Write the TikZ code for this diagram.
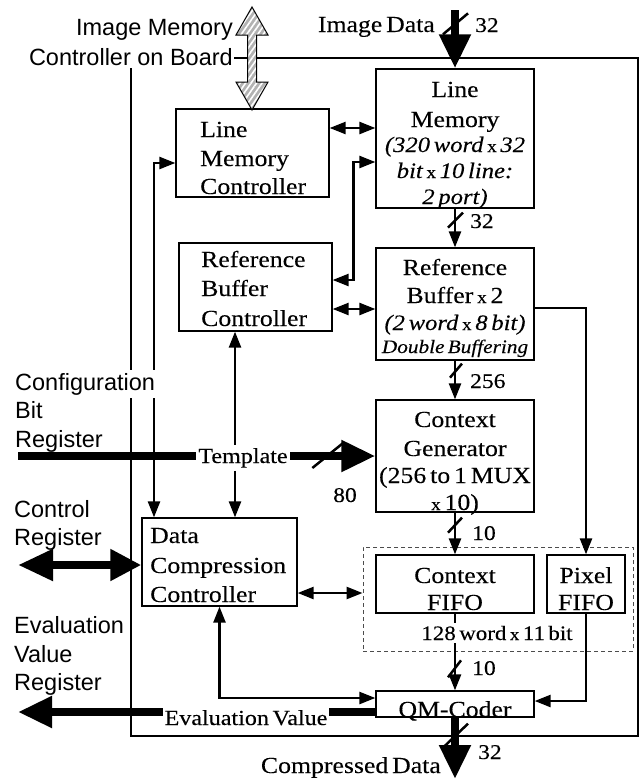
\documentclass[tikz,border=0pt]{standalone}
\usepackage{fontspec}
\setmainfont{Liberation Serif}[FakeStretch=1.12,WordSpace=0.6,FakeBold=0.2]
\newfontfamily\sanf{Liberation Sans}
\usetikzlibrary{arrows.meta,calc,patterns.meta}
\newcommand\mulx{{\fontsize{17}{17}\selectfont\upshape x}}
\tikzset{
  >={Triangle[length=16pt,width=12pt]},
  box/.style={draw, line width=1.3pt, inner sep=0pt},
  con/.style={line width=2.5pt},
  fat/.style={line width=8pt, arrows={-Triangle[length=34pt,width=30pt]}},
  fatboth/.style={line width=8pt, arrows={Triangle[length=35pt,width=30pt]-Triangle[length=31pt,width=30pt]}},
  slash/.style={line width=2.5pt},
  lab/.style={inner sep=0pt, anchor=base, font=\fontsize{23}{28}\selectfont},
  labl/.style={lab, anchor=base west},
  labr/.style={lab, anchor=base east},
  labi/.style={lab, font=\fontsize{22}{26}\selectfont\itshape},
  labs/.style={lab, font=\fontsize{19}{22}\selectfont\itshape},
  midlab/.style={lab, font=\fontsize{21.5}{26}\selectfont, fill=white, inner xsep=2pt, inner ysep=3pt},
  num/.style={inner sep=0pt, anchor=base west, font=\fontsize{21}{24}\selectfont},
  sansl/.style={inner sep=0pt, anchor=base west, font=\sanf\fontsize{23.5}{28}\selectfont},
  sansr/.style={sansl, anchor=base east},
}
\begin{document}
\begin{tikzpicture}[x=1pt,y=-1pt]
\useasboundingbox (0,0) rectangle (644,779);
% frames
\node[box, minimum width=507pt, minimum height=678pt] (outer) at (384.5,397) {};
\node[draw, dashed, dash pattern=on 4pt off 3pt, line width=0.9pt, gray!60!black, inner sep=0pt, minimum width=270pt, minimum height=104pt] (fifo) at (498,599) {};
% boxes
\node[box, minimum width=153pt, minimum height=88pt] (lmc) at (252.5,153) {};
\node[box, minimum width=153pt, minimum height=88pt] (rbc) at (255.5,287) {};
\node[box, minimum width=155pt, minimum height=88pt] (dcc) at (219.5,562) {};
\node[box, minimum width=158pt, minimum height=139pt] (lm) at (455,138.5) {};
\node[box, minimum width=158pt, minimum height=112pt] (rb) at (455,304) {};
\node[box, minimum width=158pt, minimum height=112pt] (cg) at (455,456) {};
\node[box, minimum width=158pt, minimum height=58pt] (cf) at (455,584) {};
\node[box, minimum width=78pt, minimum height=58pt] (pf) at (586,584) {};
\node[box, minimum width=158pt, minimum height=26pt] (qm) at (455,704) {};
% hatched bus arrow
\draw[line width=1pt, preaction={fill=gray!60}, pattern={Lines[angle=55,distance=4.5pt,line width=1.6pt]}, pattern color=white]
  (252,7) -- (268,35) -- (256.5,35) -- (256.5,82) -- (268,82) -- (252,110) -- (236,82) -- (247.5,82) -- (247.5,35) -- (236,35) -- cycle;
% coordinates
\coordinate (a1) at ($(lmc.east)+(0,-25)$);
\coordinate (a2) at ($(lm.west)+(0,23.5)$);
\coordinate (a3) at ($(rbc.east)+(0,-7)$);
\coordinate (a4) at ($(rbc.east)+(0,22)$);
\coordinate (a5) at ($(dcc.east)+(0,31)$);
\coordinate (a6) at ($(lmc.west)+(0,10)$);
\coordinate (tx) at (235,0);
\coordinate (tx2) at (154,0);
\coordinate (cfgs) at (18,456);
\coordinate (ctl) at (18,565);
\coordinate (evend) at (18,712);
\coordinate (ev) at ($(qm.west)+(0,8)$);
\coordinate (idtop) at (455,10);
\coordinate (cdend) at (455,779);
% thin connectors
\draw[con,<->] (a1) -- (a1 -| lm.west);
\draw[con,<->] (a2) -- ++(-22,0) |- (a3);
\draw[con,<->] (a4) -- (a4 -| rb.west);
\draw[con,->] (lm.south) -- (rb.north);
\draw[con,->] (rb.south) -- (cg.north);
\draw[con,->] ($(rb.east)+(0,4)$) -| (pf.north);
\draw[con,<->] (a6) -| (dcc.north -| tx2);
\draw[con,<->] (a5) -- (a5 -| fifo.west);
\draw[con,<->] (dcc.south) |- ($(qm.west)+(0,-6)$);
\draw[con,->] (cg.south) -- (cf.north);
\draw[con,->] (cf.south) -- (qm.north);
\draw[con,->] (pf.south) |- ($(qm.east)+(0,-3)$);
% thick buses
\draw[fat] (idtop) -- (lm.north);
\draw[fat] (cfgs) -- (cfgs -| cg.west);
\draw[fatboth] (ctl) -- (ctl -| dcc.west);
\draw[fat] (ev) -- (evend);
\draw[fat] (qm.south) -- (cdend);
% template label and its arrows
\node[midlab] (tmpl) at (243,463) {Template};
\draw[con,->] (tmpl.north -| tx) -- (rbc.south -| tx);
\draw[con,->] (tmpl.south -| tx) -- (dcc.north -| tx);
% slashes
\draw[slash] ($(lm.north)+(-12,-34)$) -- ++(25,-21);
\draw[slash] ($(lm.south)+(-7,19)$) -- ++(15,-15);
\draw[slash] ($(rb.south)+(-5,17)$) -- ++(12,-14);
\draw[slash] ($(cg.south)+(-7,20)$) -- ++(14,-15);
\draw[slash] ($(qm.north)+(-7,-13)$) -- ++(13,-17);
\draw[slash] ($(qm.south)+(-12,30)$) -- ++(25,-24);
\draw[slash] ($(cg.west)+(-63,12)$) -- ++(32,-26);
% box texts
\node[labl] (lmc1) at (200,137) {Line};
\node[labl] (lmc2) at (200,166) {Memory};
\node[labl] (lmc3) at (200,194) {Controller};
\node[labl] (rbc1) at (201,267) {Reference};
\node[labl] (rbc2) at (201,296) {Buffer};
\node[labl] (rbc3) at (201,326) {Controller};
\node[labl] (dcc1) at (150,543) {Data};
\node[labl] (dcc2) at (150,573) {Compression};
\node[labl] (dcc3) at (150,602) {Controller};
\node[lab] (lm1) at (455,97) {Line};
\node[lab] (lm2) at (455,127) {Memory};
\node[labi] (lm3) at (455,152) {(320 word \mulx{} 32};
\node[labi] (lm4) at (455,178) {bit \mulx{} 10 line:};
\node[labi] (lm5) at (455,204) {2 port)};
\node[lab] (rb1) at (455,275) {Reference};
\node[lab] (rb2) at (455,303) {Buffer \mulx{} 2};
\node[labi] (rb3) at (455,330) {(2 word \mulx{} 8 bit)};
\node[labs] (rb4) at (455,353) {Double Buffering};
\node[lab] (cg1) at (455,427) {Context};
\node[lab] (cg2) at (455,456) {Generator};
\node[lab] (cg3) at (455,483) {(256 to 1 MUX};
\node[lab] (cg4) at (455,510) {\mulx{} 10)};
\node[lab] (cf1) at (455,583) {Context};
\node[lab] (cf2) at (455,610) {FIFO};
\node[lab] (pf1) at (586,583) {Pixel};
\node[lab] (pf2) at (586,610) {FIFO};
\node[lab] (qm1) at (455,717) {QM-Coder};
\node[midlab, font=\fontsize{20.5}{24}\selectfont] (fifo1) at (497,640) {128 word \mulx{} 11 bit};
\node[midlab] (evl) at (246,725) {Evaluation Value};
% outside serif labels
\node[labr] (idl) at (435,32) {Image Data};
\node[labr] (cdl) at (441,773) {Compressed Data};
\node[num] (n1) at (475,32) {32};
\node[num] (n2) at (470,228) {32};
\node[num] (n3) at (470,388) {256};
\node[num] (n4) at (472,540) {10};
\node[num] (n5) at (472,675) {10};
\node[num] (n6) at (478,759) {32};
\node[num, anchor=base] (n7) at (345,502) {80};
% sans labels
\node[sansr] (im1) at (233,35) {Image Memory};
\node[sansr, fill=white, inner xsep=1pt, inner ysep=3pt] (im2) at (234,65) {Controller on Board};
\node[sansl, fill=white, inner xsep=1pt, inner ysep=3pt] (cb1) at (14,390) {Configuration};
\node[sansl] (cb2) at (15,418) {Bit};
\node[sansl] (cb3) at (15,447) {Register};
\node[sansl] (cr1) at (14,517) {Control};
\node[sansl] (cr2) at (14,545) {Register};
\node[sansl] (ev1) at (14,633) {Evaluation};
\node[sansl] (ev2) at (14,662) {Value};
\node[sansl] (ev3) at (14,690) {Register};
\end{tikzpicture}
\end{document}
